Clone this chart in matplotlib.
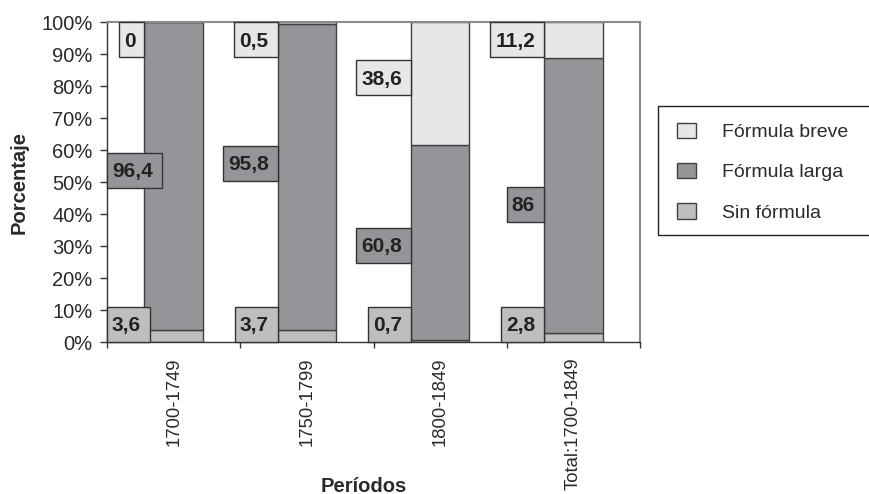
"""Stacked 100% bars: fórmulas por período"""

import matplotlib.pyplot as plt
import numpy as np
from matplotlib.lines import Line2D
from matplotlib.patches import Patch, Rectangle
from matplotlib.transforms import IdentityTransform

plt.rcParams["font.family"] = ["Liberation Sans", "DejaVu Sans"]

# Data
periods = ["1700-1749", "1750-1799", "1800-1849", "Total:1700-1849"]
sin_formula = [3.6, 3.7, 0.7, 2.8]
formula_larga = [96.4, 95.8, 60.8, 86]
formula_breve = [0, 0.5, 38.6, 11.2]

series_names = ["Sin fórmula", "Fórmula larga", "Fórmula breve"]
series_colors = ["#bcbec0", "#939598", "#e6e7e8"]
# small manual nudges of the value boxes (percentage points), per series
label_dy = [
    [0, 0, 0, 0],
    [1.8, 4.2, -0.8, -2.8],
    [0, 0, 1.9, 0],
]

DPI = 100
PX = 72 / DPI  # points per pixel
W, H = 869, 494
fig = plt.figure(figsize=(W / DPI, H / DPI), dpi=DPI)
ax = fig.add_axes([107 / W, 1 - 342 / H, 533 / W, 320 / H])

x = np.arange(len(periods))
series = [sin_formula, formula_larga, formula_breve]
totals = np.sum(series, axis=0)
bar_w = 0.44
edge = "#404040"
text_col = "#2a2a2a"

bottom = np.zeros(len(periods))
for vals, name, col in zip(series, series_names, series_colors):
    pct = np.array(vals) / totals * 100
    ax.bar(x, pct, bar_w, bottom=bottom, color=col, edgecolor=edge,
           linewidth=1, label=name, zorder=2)
    bottom += pct

ax.set_xlim(-0.5, len(periods) - 0.5)
ax.set_ylim(0, 100)

# value boxes left of each bar (sizes in pixels)
box_h = 35
pad_l, pad_r = 5, 9
half_pct = box_h / 2 / 320 * 100
labels = []
bottom = np.zeros(len(periods))
for k, (vals, col) in enumerate(zip(series, series_colors)):
    pct = np.array(vals) / totals * 100
    for i, v in enumerate(vals):
        yc = bottom[i] + pct[i] / 2 + label_dy[k][i]
        yc = min(max(yc, half_pct), 100 - half_pct)
        txt = f"{v:g}".replace(".", ",")
        t = ax.annotate(txt, (x[i] - bar_w / 2, yc),
                        xytext=(-pad_r * PX, -7 * PX),
                        textcoords="offset points", ha="right",
                        va="baseline", fontsize=15, fontweight="bold",
                        color="#222222", zorder=5)
        labels.append((t, col))
    bottom += pct

fig.canvas.draw()
ax_left = ax.get_window_extent().x0
renderer = fig.canvas.get_renderer()
for t, col in labels:
    ext = t.get_window_extent(renderer)
    if ext.x0 - pad_l < ax_left:
        dx = ax_left - (ext.x0 - pad_l)
        ox, oy = t.xyann
        t.xyann = (ox + dx * PX, oy)
        ext = t.get_window_extent(renderer)
    yc_px = ax.transData.transform(t.xy)[1]
    rect = Rectangle((ext.x0 - pad_l, yc_px - box_h / 2),
                     ext.width + pad_l + pad_r, box_h,
                     transform=IdentityTransform(), facecolor=col,
                     edgecolor="#333333", linewidth=1, zorder=4,
                     clip_on=False)
    ax.add_artist(rect)

# axes styling
for s in ["top", "right"]:
    ax.spines[s].set_color("#8a8a8a")
    ax.spines[s].set_linewidth(1.5)
for s in ["left", "bottom"]:
    ax.spines[s].set_color("#333333")
    ax.spines[s].set_linewidth(1)

ax.set_yticks(np.arange(0, 101, 10))
ax.set_yticklabels([f"{v}%" for v in range(0, 101, 10)])
ax.tick_params(axis="y", direction="out", length=5, width=1, color="#333333",
               labelsize=14.5, labelcolor=text_col, pad=5.5)

ax.set_xticks(x)
ax.set_xticklabels(periods, rotation=90, va="top", ha="center")
ax.set_xticks(np.arange(-0.5, len(periods)), minor=True)
ax.tick_params(axis="x", which="major", length=0, labelsize=13.3,
               labelcolor=text_col, pad=11)
ax.tick_params(axis="x", which="minor", direction="out", length=4.5,
               width=1, color="#333333")

ax.set_ylabel("Porcentaje", fontsize=14.5, fontweight="bold", color=text_col,
              va="center")
ax.yaxis.set_label_coords((19 - 107) / 533, 0.5)
ax.set_xlabel("Períodos", fontsize=14.5, fontweight="bold", color=text_col,
              va="center")
ax.xaxis.set_label_coords((364 - 107) / 533, (342 - 486) / 320)

# legend (reversed order like the original), frame runs off the right edge
handles = [Patch(facecolor=c, edgecolor=edge, linewidth=1)
           for c in series_colors][::-1]
leg = fig.legend(handles, series_names[::-1], loc="upper left",
                 bbox_to_anchor=(660 / W, 1 - 106 / H), fontsize=14,
                 frameon=False, handlelength=1.0, handleheight=0.85,
                 handletextpad=1.35, labelspacing=1.12, borderpad=0.85,
                 borderaxespad=0)
for t in leg.get_texts():
    t.set_color(text_col)
lx = np.array([W + 5, 658, 658, W + 5]) / W
ly = 1 - np.array([106, 106, 235, 235]) / H
fig.add_artist(Line2D(lx, ly, transform=fig.transFigure, color="#222222",
                      linewidth=1))

fig.savefig("out.png", dpi=DPI)
